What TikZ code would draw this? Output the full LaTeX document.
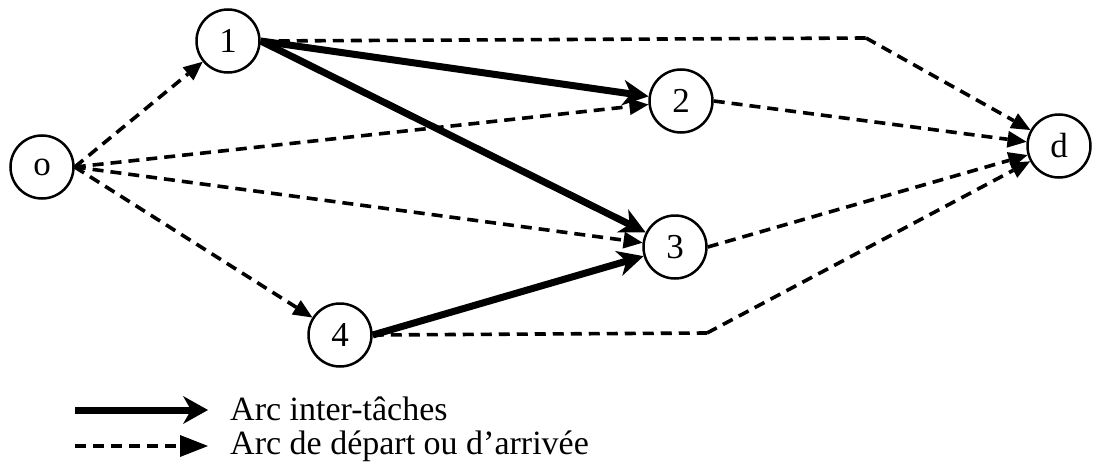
\documentclass[tikz,border=0pt]{standalone}
\usepackage{fontspec}
\setmainfont{Liberation Serif}
\usetikzlibrary{arrows.meta}
\begin{document}
\begin{tikzpicture}[x=1pt,y=-1pt,
  vertex/.style={circle,draw,line width=2.5pt,minimum size=63pt,inner sep=0pt,
    font=\fontsize{35}{40}\selectfont},
  solidarc/.style={line width=7pt,-{Stealth[length=26pt,width=26pt,inset=8pt,line width=0pt]}},
  dasharc/.style={line width=3.6pt,dash pattern=on 11pt off 7pt,-{Triangle[length=19pt,width=17pt,line width=0pt]}},
  dashplain/.style={line width=3.6pt,dash pattern=on 11pt off 7pt},
  legendtext/.style={anchor=base west,inner sep=0pt,font=\fontsize{34}{40}\selectfont}]
\useasboundingbox (0,0) rectangle (1093,463);
\node[vertex] (o) at (42,167) {o};
\node[vertex] (n1) at (228,41) {1};
\node[vertex] (n2) at (681,101) {2};
\node[vertex] (n3) at (675,247) {3};
\node[vertex] (n4) at (340,335) {4};
\node[vertex] (d) at (1059,146) {d};
\coordinate (c1) at (866,38);
\coordinate (c4) at (707,333);
% departure arcs
\draw[dasharc] (o.east) -- (n1);
\draw[dasharc] (o.east) -- (n2);
\draw[dasharc] (o.east) -- (n3);
\draw[dasharc] (o.east) -- (n4);
% arrival arcs
\draw[dashplain] (n1.east) -- (c1);
\draw[dasharc] (c1) -- (d);
\draw[dasharc] (n2.east) -- (d);
\draw[dasharc] (n3.east) -- (d);
\draw[dashplain] (n4.east) -- (c4);
\draw[dasharc] (c4) -- (d);
% inter-task arcs
\draw[solidarc] (n1.east) -- (n2);
\draw[solidarc] (n1.east) -- (n3);
\draw[solidarc] (n4.east) -- (n3);
% legend
\coordinate (l1a) at (75,410);
\coordinate (l1b) at (208,410);
\coordinate (l2a) at (75,446);
\coordinate (l2b) at (208,446);
\draw[line width=7pt,-{Stealth[length=25pt,width=28pt,inset=8pt,line width=0pt]}] (l1a) -- (l1b);
\draw[line width=3.6pt,dash pattern=on 11pt off 7pt,-{Triangle[length=28pt,width=22pt,line width=0pt]}] (l2a) -- (l2b);
\node[legendtext] (t1) at (230,420) {Arc inter-tâches};
\node[legendtext] (t2) at (230,454) {Arc de départ ou d’arrivée};
\end{tikzpicture}
\end{document}
